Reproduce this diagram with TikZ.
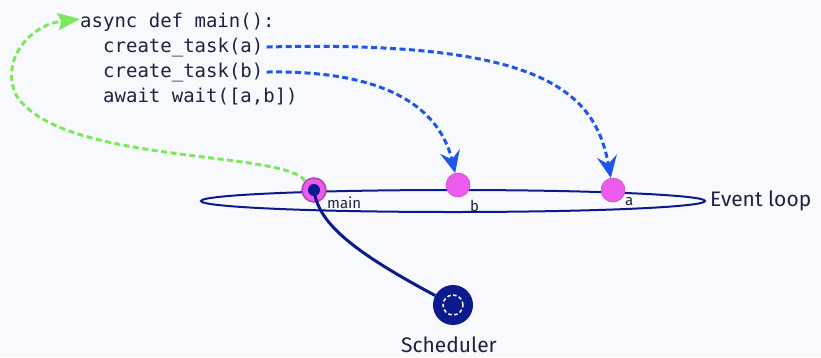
\documentclass[tikz,border=0pt]{standalone}
\usepackage{fontspec}
\setmainfont{Fira Sans}
\setmonofont{DejaVu Sans Mono}
\usetikzlibrary{arrows.meta,shapes.geometric}
\definecolor{bgc}{HTML}{F8F9FC}
\definecolor{navy}{HTML}{0B1A8C}
\definecolor{pinkc}{HTML}{EC5CEC}
\definecolor{bluec}{HTML}{1E56E8}
\definecolor{greenc}{HTML}{7CE85A}
\definecolor{txt}{HTML}{1E2140}
\tikzset{
  code/.style={font=\ttfamily\fontsize{19}{22}\selectfont, text=txt, inner sep=0pt, anchor=base west},
  task/.style={circle, fill=pinkc, draw=pinkc!85!black, line width=0.6pt, minimum size=24pt, inner sep=0pt},
  small/.style={font=\fontsize{15}{17}\selectfont, text=txt, inner sep=0pt},
  big/.style={font=\fontsize{21}{25}\selectfont, text=txt, inner sep=0pt},
  bluearrow/.style={bluec, line width=3pt, dash pattern=on 6pt off 3.5pt, -{Stealth[length=22pt,width=20pt,inset=8pt]}},
  greenarrow/.style={greenc, line width=3pt, dash pattern=on 6pt off 3.5pt, -{Stealth[length=22pt,width=17pt,inset=3pt]}},
}
\begin{document}
\begin{tikzpicture}[x=1pt,y=-1pt]
\fill[bgc] (0,0) rectangle (821,357);
\useasboundingbox (0,0) rectangle (821,357);
\node[draw=navy, line width=2pt, ellipse, minimum width=504pt, minimum height=22pt, inner sep=0pt] (loop) at (453,201) {};
\node[code] (l1) at (80,27) {async def main():};
\node[code] (l2) at (103,52) {create\_task(a)};
\node[code] (l3) at (103,77) {create\_task(b)};
\node[code] (l4) at (103,102) {await wait([a,b])};
\node[task, line width=1.5pt, draw=pinkc!75!black] (main) at (314,190) {};
\node[circle, fill=navy, minimum size=12pt, inner sep=0pt] (maindot) at (314,190) {};
\node[task] (b) at (458,185) {};
\node[task] (a) at (613,190) {};
\node[small, anchor=base west] (mainlbl) at (327,208) {main};
\node[small, anchor=base west] (blbl) at (470,211) {b};
\node[small, anchor=base west] (albl) at (625,205) {a};
\node[big, anchor=west] (evl) at (710,201) {Event loop};
\node[circle, fill=navy, minimum size=40pt, inner sep=0pt] (sched) at (453,305) {};
\draw[white, line width=1.5pt, dash pattern=on 3.5pt off 2.5pt] (sched.center) circle (10pt);
\node[big] (schedlbl) at (449,345) {Scheduler};
\draw[navy, line width=3pt] (maindot.center) .. controls (318,222) and (350,250) .. (sched);
\coordinate (gend) at (80,19);
\draw[greenarrow] (main.north west) .. controls (285,150) and (60,165) .. (16,95) .. controls (0,60) and (30,25) .. (gend);
\draw[bluearrow] ([xshift=3pt]l2.east) .. controls (540,40) and (595,90) .. (a);
\draw[bluearrow] ([xshift=3pt]l3.east) .. controls (390,70) and (440,110) .. (b);
\end{tikzpicture}
\end{document}
